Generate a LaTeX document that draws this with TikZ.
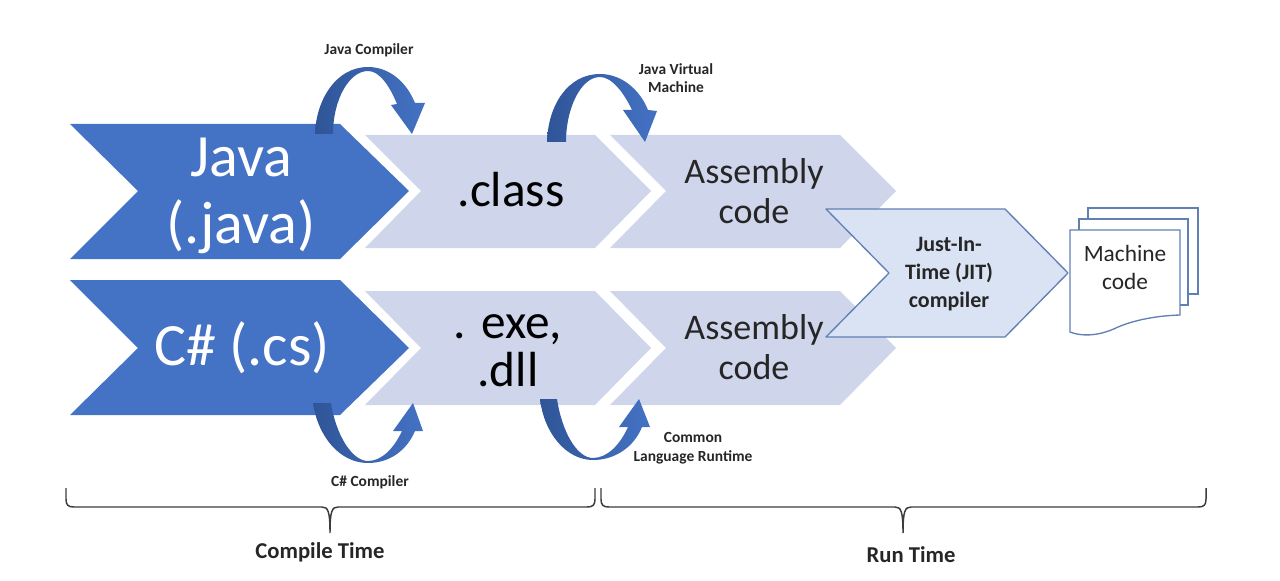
\documentclass[tikz,border=0pt]{standalone}
\usepackage{fontspec}
\setmainfont{Carlito}
\definecolor{bluefill}{HTML}{4472C4}
\definecolor{paleblue}{HTML}{CFD5EA}
\definecolor{jitfill}{HTML}{DAE3F3}
\definecolor{jitline}{HTML}{6080B4}
\definecolor{darkarrow}{HTML}{2F5597}
\definecolor{inktext}{HTML}{262626}
\tikzset{
	bigshape/.style={fill=bluefill,draw=none},
	paleshape/.style={fill=paleblue,draw=none},
	jitshape/.style={fill=jitfill,draw=jitline,line width=1pt,line join=round},
	pageshape/.style={fill=white,draw=jitline,line width=1pt},
	turnarrow/.style={left color=darkarrow,right color=bluefill,draw=none},
	bracket/.style={draw=inktext!90,line width=1.1pt},
	biglabel/.style={text=white,font=\fontsize{45}{50}\selectfont,align=center,inner sep=0pt},
	midlabel/.style={text=black,font=\fontsize{37}{36}\selectfont,align=center,inner sep=0pt},
	asmlabel/.style={text=inktext,font=\fontsize{27}{30}\selectfont,align=center,inner sep=0pt},
	smalllabel/.style={text=inktext,font=\bfseries\fontsize{11.6}{14}\selectfont,align=center,inner sep=0pt},
	timelabel/.style={text=inktext,font=\bfseries\fontsize{17}{20}\selectfont,inner sep=0pt},
}
\begin{document}
\begin{tikzpicture}[x=0.75pt,y=-0.75pt]
	\useasboundingbox (0,0) rectangle (1280,581);

	% first column
	\path[bigshape] (70,124) -- (340,124) -- (409,191) -- (340,259) -- (70,259) -- (138,191) -- cycle;
	\path[bigshape] (70,280) -- (340,280) -- (409,348) -- (340,415) -- (70,415) -- (138,348) -- cycle;

	% second and third column
	\foreach \x in {0,245} {
		\path[paleshape] (365+\x,135) -- (595+\x,135) -- (651+\x,191) -- (595+\x,248) -- (365+\x,248) -- (421+\x,191) -- cycle;
		\path[paleshape] (365+\x,291) -- (595+\x,291) -- (651+\x,348) -- (595+\x,405) -- (365+\x,405) -- (421+\x,348) -- cycle;
	}

	% arrows that turn
	\path[turnarrow] (315,134) .. controls (316,100) and (336,67) .. (368,67)
		.. controls (390,67) and (407,83) .. (415,103) -- (425,103) -- (412,134) -- (391,105) -- (397,104)
		.. controls (390,87) and (380,71) .. (368,71)
		.. controls (349,71) and (333,100) .. (333,134) -- cycle;
	\path[turnarrow] (547,142) .. controls (548,105) and (568,74) .. (600,74)
		.. controls (622,74) and (640,90) .. (648,110) -- (657,111) -- (645,142) -- (623,110) -- (632,110)
		.. controls (624,93) and (612,77) .. (600,77)
		.. controls (581,77) and (566,108) .. (566,142) -- cycle;
	\path[turnarrow] (313,403) .. controls (318,437) and (340,463) .. (368,463)
		.. controls (390,463) and (407,450) .. (415,431) -- (423,431) -- (413,403) -- (393,431) -- (402,431)
		.. controls (394,448) and (382,461) .. (368,461)
		.. controls (352,461) and (336,435) .. (331,403) -- cycle;
	\path[turnarrow] (540,399) .. controls (544,433) and (566,460) .. (593,460)
		.. controls (615,460) and (634,447) .. (642,427) -- (650,427) -- (639,399) -- (619,427) -- (628,427)
		.. controls (620,445) and (607,458) .. (593,458)
		.. controls (577,458) and (562,432) .. (557,399) -- cycle;

	% compiler and the pages
	\path[jitshape] (826,209) -- (1005,209) -- (1068,273) -- (1005,337) -- (826,337) -- (889,273) -- cycle;
	\path[pageshape] (1088,208) -- (1198,208) -- (1198,294) -- (1088,294) -- cycle;
	\path[pageshape] (1079,219) -- (1188,219) -- (1188,305) -- (1079,305) -- cycle;
	\path[pageshape] (1070,230) -- (1180,230) -- (1180,315)
		.. controls (1150,316) and (1130,322) .. (1118,327)
		.. controls (1104,334) and (1086,338) .. (1070,332) -- cycle;

	\node[biglabel] (java) at (241,196) {Java\\(.java)};
	\node[biglabel] (csharp) at (242,348) {C\# (.cs)};
	\node[midlabel] (class) at (511,190) {.class};
	\node[midlabel] (exe) at (508,351) {. exe,\\.dll};
	\node[asmlabel] (asma) at (754,191) {Assembly\\code};
	\node[asmlabel] (asmb) at (754,347) {Assembly\\code};
	\node[text=inktext,font=\bfseries\fontsize{16.5}{21}\selectfont,align=center,inner sep=0pt] (jit) at (949,274) {Just-In-\\Time (JIT)\\compiler};
	\node[text=inktext,font=\fontsize{17.5}{21}\selectfont,align=center,inner sep=0pt] (machine) at (1125,267) {Machine\\code};

	\node[smalllabel] (javac) at (369,50) {Java Compiler};
	\node[smalllabel] (jvm) at (676,78) {Java Virtual\\Machine};
	\node[smalllabel] (csc) at (370,482) {C\# Compiler};
	\node[smalllabel] (clr) at (693,448) {Common\\Language Runtime};
	\node[timelabel] (compile) at (320,552) {Compile Time};
	\node[timelabel] (run) at (911,555) {Run Time};

	% braces
	\coordinate (lefttip) at (330,533);
	\coordinate (righttip) at (903,533);
	\draw[bracket] (66,488) -- (66,499) .. controls (66,505) and (68,507) .. (74,507) -- (322,507)
		.. controls (328,507) and (330,511) .. (lefttip)
		(lefttip) .. controls (330,511) and (332,507) .. (338,507) -- (587,507)
		.. controls (593,507) and (595,505) .. (595,499) -- (595,488);
	\draw[bracket] (601,488) -- (601,499) .. controls (601,505) and (603,507) .. (609,507) -- (895,507)
		.. controls (901,507) and (903,511) .. (righttip)
		(righttip) .. controls (903,511) and (905,507) .. (911,507) -- (1198,507)
		.. controls (1204,507) and (1206,505) .. (1206,499) -- (1206,488);
\end{tikzpicture}
\end{document}
